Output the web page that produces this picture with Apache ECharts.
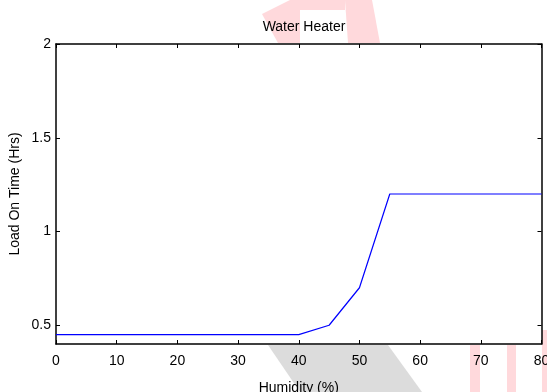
<!DOCTYPE html>
<html>
<head>
<meta charset="utf-8">
<script src="https://cdn.jsdelivr.net/npm/echarts@6/dist/echarts.min.js"></script>
<style>
  html, body { margin: 0; padding: 0; background: #fff; }
  #chart { width: 547px; height: 392px; }
</style>
</head>
<body>
<div id="chart"></div>
<script>
const humidity = [0, 5, 10, 15, 20, 25, 30, 35, 40, 45, 50, 55, 60, 65, 70, 75, 80]
const loadOnTime = [0.45, 0.45, 0.45, 0.45, 0.45, 0.45, 0.45, 0.45, 0.45, 0.5, 0.7, 1.2, 1.2, 1.2, 1.2, 1.2, 1.2]
const yTicks = [0.5, 1, 1.5, 2]

const font = 'Liberation Sans, Arial, sans-serif'
const black = '#000'
const pink = '#ffd9dc'
const grey = '#dcdcdc'

const chart = echarts.init(document.getElementById('chart'), null, { renderer: 'canvas' })

const xBase = {
  type: 'value',
  min: 0,
  max: 80,
  interval: 10,
  axisLine: { show: true, onZero: false, lineStyle: { color: black, width: 1.5 } },
  axisTick: { show: true, inside: true, length: 4, lineStyle: { color: black } },
  splitLine: { show: false },
}
const yBase = {
  type: 'value',
  min: 0.4,
  max: 2,
  axisLine: { show: true, onZero: false, lineStyle: { color: black, width: 1.5 } },
  axisTick: { show: true, inside: true, length: 4, customValues: yTicks, lineStyle: { color: black } },
  splitLine: { show: false },
}

// faint watermark pieces behind the axes (outside the plot box)
const poly = (points, fill) => ({ type: 'polygon', z: -10, silent: true, shape: { points }, style: { fill } })
const watermark = [
  poly([[268, 345], [388, 345], [422, 392], [300, 392]], grey),
  poly([[470, 345], [480, 345], [480, 392], [470, 392]], pink),
  poly([[507, 345], [516, 345], [516, 392], [507, 392]], pink),
  poly([[542, 330], [547, 330], [547, 392], [542, 392]], pink),
  poly([[262, 14], [290, 0], [300, 0], [300, 43], [278, 43]], pink),
  poly([[300, 0], [345, 0], [345, 10], [300, 10]], pink),
  poly([[345, 0], [372, 0], [380, 43], [348, 43]], pink),
]

chart.setOption({
  backgroundColor: '#fff',
  animation: false,
  graphic: watermark,
  title: {
    text: 'Water Heater',
    left: 299,
    top: 15,
    textAlign: 'center',
    textStyle: { fontFamily: font, fontSize: 14, fontWeight: 'normal', color: black },
  },
  grid: {
    left: 56,
    right: 5.5,
    top: 44,
    bottom: 48,
    outerBoundsMode: 'none',
    show: true,
    backgroundColor: '#fff',
    borderWidth: 0,
  },
  xAxis: [
    {
      ...xBase,
      position: 'bottom',
      name: 'Humidity (%)',
      nameLocation: 'middle',
      nameGap: 37,
      nameTextStyle: { fontFamily: font, fontSize: 14, color: black },
      axisLabel: { fontFamily: font, fontSize: 14, color: black, margin: 10 },
    },
    { ...xBase, position: 'top', axisLabel: { show: false } },
  ],
  yAxis: [
    {
      ...yBase,
      position: 'left',
      name: 'Load On Time (Hrs)',
      nameLocation: 'middle',
      nameGap: 34,
      nameMoveOverlap: false,
      nameTextStyle: { fontFamily: font, fontSize: 14, color: black },
      axisLabel: {
        customValues: yTicks,
        fontFamily: font,
        fontSize: 14,
        color: black,
        margin: 5,
        formatter: (v) => String(v),
      },
    },
    { ...yBase, position: 'right', axisLabel: { show: false } },
  ],
  series: [
    {
      type: 'line',
      data: humidity.map((h, i) => [h, loadOnTime[i]]),
      showSymbol: false,
      lineStyle: { color: '#0000ff', width: 1.2 },
      itemStyle: { color: '#0000ff' },
    },
  ],
})
</script>
</body>
</html>
